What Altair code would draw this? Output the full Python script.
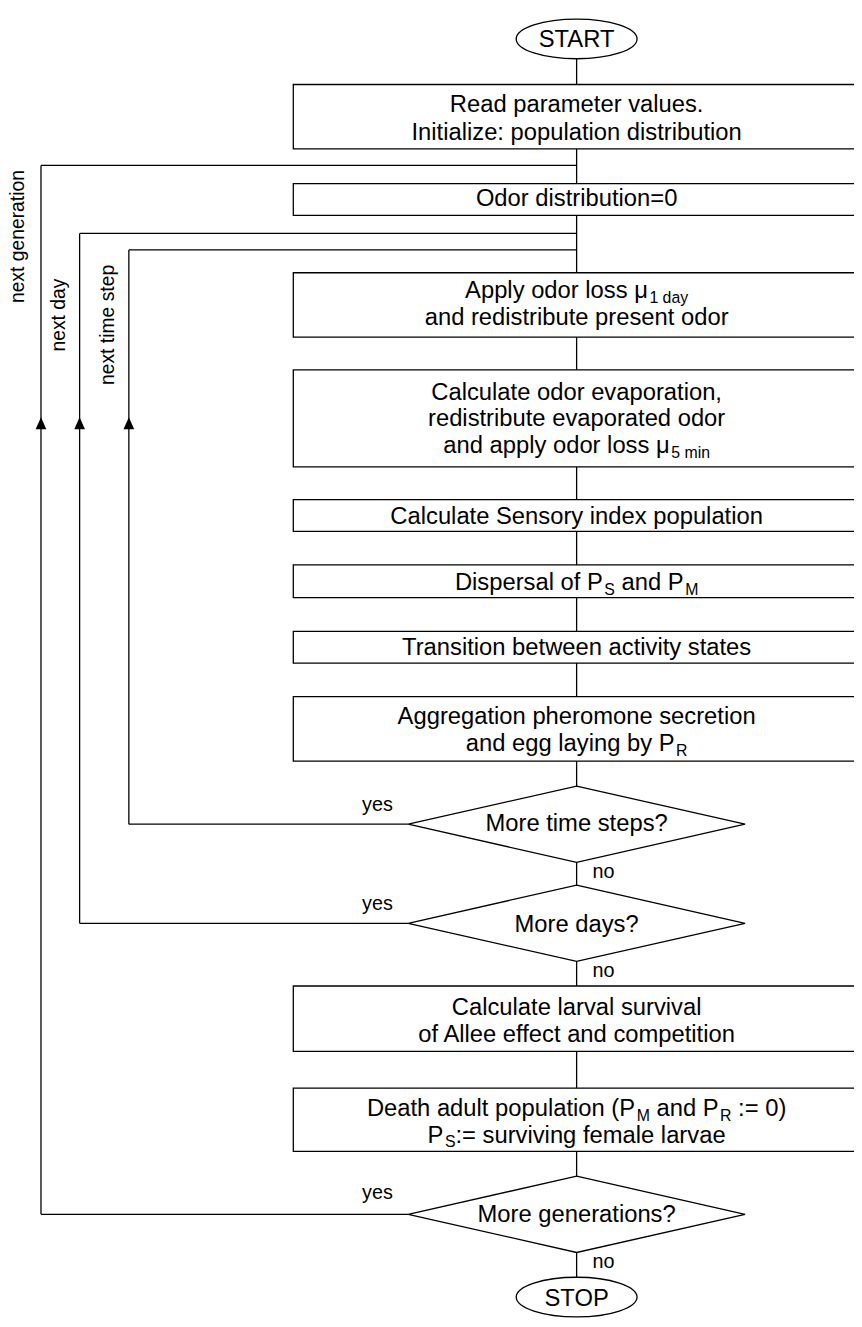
import altair as alt
import pandas as pd

# ---------------- content (text of the flowchart) ----------------
TERMINALS = ["START", "STOP"]
# each box: list of lines; each line: list of (text, is_subscript)
BOX_LINES = [
    [[("Read parameter values.", 0)], [("Initialize: population distribution", 0)]],
    [[("Odor distribution=0", 0)]],
    [[("Apply odor loss μ", 0), ("1 day", 1)], [("and redistribute present odor", 0)]],
    [[("Calculate odor evaporation,", 0)], [("redistribute evaporated odor", 0)],
     [("and apply odor loss μ", 0), ("5 min", 1)]],
    [[("Calculate Sensory index population", 0)]],
    [[("Dispersal of P", 0), ("S", 1), (" and P", 0), ("M", 1)]],
    [[("Transition between activity states", 0)]],
    [[("Aggregation pheromone secretion", 0)], [("and egg laying by P", 0), ("R", 1)]],
    [[("Calculate larval survival", 0)], [("of Allee effect and competition", 0)]],
    [[("Death adult population (P", 0), ("M", 1), (" and P", 0), ("R", 1), (" := 0)", 0)],
     [("P", 0), ("S", 1), (":= surviving female larvae", 0)]],
]
DECISIONS = ["More time steps?", "More days?", "More generations?"]
LOOP_LABELS = ["next time step", "next day", "next generation"]
YES_LABEL = "yes"
NO_LABEL = "no"

# ---------------- layout (screen pixels) ----------------
CX = 582
BOX_LEFT = 296
BOX_RIGHT = 900
BOX_TOP = [79, 179, 269, 367, 498, 564, 631, 697, 989, 1092]
BOX_BOTTOM = [144, 211, 334, 465, 530, 597, 663, 762, 1055, 1156]
BOX_BASELINES = [[107, 135], [202], [295, 322], [397, 424, 451], [522.5],
                 [589.5], [655], [725, 752], [1018, 1046], [1120, 1147]]
DEC_CY = [825.7, 925.7, 1219.5]
DEC_BASE = [833, 935, 1227]
DEC_HW, DEC_HH = 170, 38.5
TERM_CY = [33, 1303]
TERM_BASE = [41, 1312]
TERM_RX, TERM_RY = 61, 20
LOOP_X = [130, 80.3, 41.3]
LOOP_TOP = [246, 229.3, 160.7]
LOOP_LABEL_XY = [(108.5, 321.7), (60, 311.7), (18.5, 232.5)]
ARROW_Y = 421
YES_X, YES_BASE = 381, [812.7, 912.7, 1204]
NO_X, NO_BASE = 598, [880, 980, 1274]

MAIN_SIZE, SUB_SIZE, SMALL_SIZE, LOOP_SIZE = 24, 16, 20, 19.5
SUB_DY = 5
SUB_GAP = 1.5
FONT = "Liberation Sans, Arial, Helvetica, sans-serif"
LW = 1.3

# Helvetica / Arial advance widths (per 1000 em) for centring mixed lines
W = {' ': 278, '!': 278, '(': 333, ')': 333, ',': 278, '.': 278, ':': 278, '=': 584, '?': 556,
     'A': 667, 'B': 667, 'C': 722, 'D': 722, 'E': 667, 'F': 611, 'G': 778, 'H': 722, 'I': 278,
     'J': 500, 'K': 667, 'L': 556, 'M': 833, 'N': 722, 'O': 778, 'P': 667, 'Q': 778, 'R': 722,
     'S': 667, 'T': 611, 'U': 722, 'V': 667, 'W': 944, 'X': 667, 'Y': 667, 'Z': 611,
     'a': 556, 'b': 556, 'c': 500, 'd': 556, 'e': 556, 'f': 278, 'g': 556, 'h': 556, 'i': 222,
     'j': 222, 'k': 500, 'l': 222, 'm': 833, 'n': 556, 'o': 556, 'p': 556, 'q': 556, 'r': 333,
     's': 500, 't': 278, 'u': 556, 'v': 500, 'w': 722, 'x': 500, 'y': 500, 'z': 500, 'μ': 576}
for d in "0123456789":
    W[d] = 556


def tw(s, size):
    return sum(W.get(ch, 556) for ch in s) * size / 1000.0


def seg_width(s, sub):
    return tw(s, SUB_SIZE if sub else MAIN_SIZE) + (SUB_GAP if sub else 0)


# ---------------- tables ----------------
lines = [dict(x=CX, y=TERM_CY[0] + TERM_RY, x2=CX, y2=TERM_CY[1] - TERM_RY)]
for lx, top, cy in zip(LOOP_X, LOOP_TOP, DEC_CY):
    lines.append(dict(x=lx, y=top, x2=CX, y2=top))
    lines.append(dict(x=lx, y=top, x2=lx, y2=cy))
    lines.append(dict(x=lx, y=cy, x2=CX - DEC_HW, y2=cy))
lines_df = pd.DataFrame(lines)

boxes_df = pd.DataFrame(dict(x=[BOX_LEFT] * len(BOX_TOP), x2=[BOX_RIGHT] * len(BOX_TOP),
                             y=BOX_TOP, y2=BOX_BOTTOM))

dec_df = pd.DataFrame(dict(x=[CX] * 3, y=DEC_CY))
term_df = pd.DataFrame(dict(x=[CX] * 2, y=TERM_CY))
arrow_df = pd.DataFrame(dict(x=LOOP_X, y=[ARROW_Y] * 3))

center_rows, seg_rows = [], []
for box, bases in zip(BOX_LINES, BOX_BASELINES):
    for line, base in zip(box, bases):
        if len(line) == 1:
            center_rows.append(dict(x=CX, y=base, t=line[0][0]))
        else:
            total = sum(seg_width(s, sub) for s, sub in line)
            x0 = CX - total / 2
            for s, sub in line:
                size = SUB_SIZE if sub else MAIN_SIZE
                lead = s[:len(s) - len(s.lstrip(" "))]
                start = x0 + tw(lead, size) + (SUB_GAP if sub else 0)
                seg_rows.append(dict(x=start, y=base + (SUB_DY if sub else 0),
                                     t=s.strip(" "), size=size))
                x0 += seg_width(s, sub)
for t, b in zip(DECISIONS, DEC_BASE):
    center_rows.append(dict(x=CX, y=b, t=t))
for t, b in zip(TERMINALS, TERM_BASE):
    center_rows.append(dict(x=CX, y=b, t=t))
center_df = pd.DataFrame(center_rows)
seg_df = pd.DataFrame(seg_rows)

yes_df = pd.DataFrame(dict(x=[YES_X] * 3, y=YES_BASE, t=[YES_LABEL] * 3))
no_df = pd.DataFrame(dict(x=[NO_X] * 3, y=NO_BASE, t=[NO_LABEL] * 3))
loop_df = pd.DataFrame(dict(x=[p[0] for p in LOOP_LABEL_XY], y=[p[1] for p in LOOP_LABEL_XY],
                            t=LOOP_LABELS))

# ---------------- scales / shapes ----------------
XS = alt.Scale(domain=[8, 862], nice=False, zero=False)
YS = alt.Scale(domain=[8, 1327], nice=False, zero=False, reverse=True)


def X(f="x"):
    return alt.X(f + ":Q", scale=XS, axis=None)


def Y(f="y"):
    return alt.Y(f + ":Q", scale=YS, axis=None)


b = DEC_HH / DEC_HW
DIAMOND = f"M0,{-b:.4f}L1,0L0,{b:.4f}L-1,0Z"
e = TERM_RY / TERM_RX
k = 0.5523
ELLIPSE = (f"M-1,0C-1,{-k*e:.4f},{-k:.4f},{-e:.4f},0,{-e:.4f}"
           f"C{k:.4f},{-e:.4f},1,{-k*e:.4f},1,0"
           f"C1,{k*e:.4f},{k:.4f},{e:.4f},0,{e:.4f}"
           f"C{-k:.4f},{e:.4f},-1,{k*e:.4f},-1,0Z")
ARROW = "M0,-1L0.9,1L-0.9,1Z"

rules = alt.Chart(lines_df).mark_rule(color="black", strokeWidth=LW).encode(
    x=X(), y=Y(), x2="x2:Q", y2="y2:Q")
rects = alt.Chart(boxes_df).mark_rect(fill="white", stroke="black", strokeWidth=LW, clip=True).encode(
    x=X(), y=Y(), x2="x2:Q", y2="y2:Q")
diamonds = alt.Chart(dec_df).mark_point(shape=DIAMOND, size=(2 * DEC_HW) ** 2, filled=True,
                                        fill="white", stroke="black", strokeWidth=LW,
                                        opacity=1).encode(x=X(), y=Y())
terms = alt.Chart(term_df).mark_point(shape=ELLIPSE, size=(2 * TERM_RX) ** 2, filled=True,
                                      fill="white", stroke="black", strokeWidth=LW,
                                      opacity=1).encode(x=X(), y=Y())
arrows = alt.Chart(arrow_df).mark_point(shape=ARROW, size=144, filled=True, fill="black",
                                        opacity=1).encode(x=X(), y=Y())
center_text = alt.Chart(center_df).mark_text(align="center", baseline="alphabetic", font=FONT,
                                             fontSize=MAIN_SIZE, color="black").encode(
    x=X(), y=Y(), text="t:N")
seg_text = alt.Chart(seg_df).mark_text(align="left", baseline="alphabetic", font=FONT,
                                       color="black").encode(
    x=X(), y=Y(), text="t:N", size=alt.Size("size:Q", scale=None, legend=None))
yes_text = alt.Chart(yes_df).mark_text(align="center", baseline="alphabetic", font=FONT,
                                       fontSize=SMALL_SIZE, color="black").encode(
    x=X(), y=Y(), text="t:N")
no_text = alt.Chart(no_df).mark_text(align="left", baseline="alphabetic", font=FONT,
                                     fontSize=SMALL_SIZE, color="black").encode(
    x=X(), y=Y(), text="t:N")
loop_text = alt.Chart(loop_df).mark_text(align="center", baseline="middle", angle=270, font=FONT,
                                         fontSize=LOOP_SIZE, color="black").encode(
    x=X(), y=Y(), text="t:N")

chart = alt.layer(rules, rects, diamonds, terms, arrows, center_text, seg_text,
                  yes_text, no_text, loop_text).properties(
    width=854, height=1319, autosize=alt.AutoSizeParams(type="none"), padding=0,
    background="white"
).configure_view(strokeWidth=0)

chart.save("out.html", embed_options={"renderer": "svg", "actions": False})
